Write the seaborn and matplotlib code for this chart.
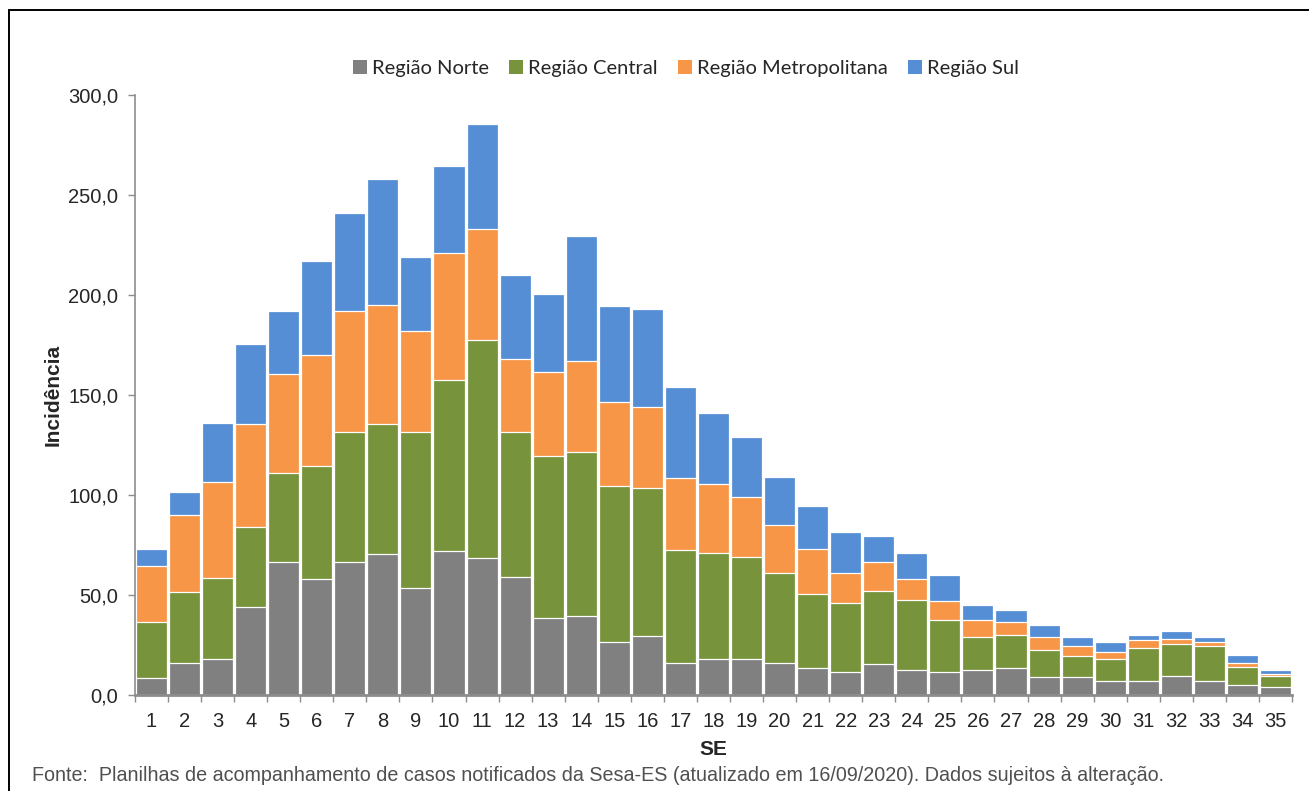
import numpy as np
import pandas as pd
import matplotlib
matplotlib.use("Agg")
import matplotlib.pyplot as plt
from matplotlib.patches import Patch, Rectangle
from matplotlib.ticker import FuncFormatter, FixedLocator
import seaborn as sns

# Epidemiological weeks
semanas = list(range(1, 36))

# Incidence by region for each week
norte = [8.7, 16.2, 17.8, 44.2, 66.3, 57.8, 66.3, 70.3, 53.3, 71.8, 68.3, 58.8,
         38.5, 39.3, 26.3, 29.3, 16.2, 18.0, 18.0, 16.2, 13.3, 11.3, 15.3, 12.3,
         11.3, 12.3, 13.3, 8.8, 8.8, 6.8, 6.8, 9.7, 6.8, 4.8, 4.0]
central = [28.0, 35.1, 40.9, 40.0, 44.7, 56.9, 65.4, 65.0, 78.4, 85.7, 109.0, 72.9,
           80.8, 82.0, 78.2, 74.4, 56.5, 53.2, 51.2, 44.6, 37.4, 34.5, 36.9, 35.4,
           26.4, 16.9, 16.7, 13.9, 10.9, 11.0, 16.7, 15.6, 17.7, 9.4, 5.7]
metropolitana = [27.8, 38.5, 47.6, 51.1, 49.5, 55.1, 60.3, 59.7, 50.3, 63.5, 55.7, 36.3,
                 42.0, 45.7, 41.8, 40.1, 35.6, 34.3, 29.8, 24.2, 22.3, 15.2, 14.1, 10.3,
                 9.3, 8.5, 6.7, 6.5, 4.8, 3.9, 3.8, 2.9, 1.8, 1.8, 1.0]
sul = [8.3, 11.9, 29.9, 40.0, 31.5, 47.4, 49.2, 63.0, 37.0, 43.7, 52.3, 41.8,
       39.0, 62.3, 48.4, 49.0, 45.5, 35.3, 29.8, 24.2, 21.3, 20.3, 13.2, 13.0,
       12.8, 7.3, 5.6, 5.6, 4.7, 4.6, 2.9, 3.8, 2.9, 3.8, 1.6]

regioes = ["Região Norte", "Região Central", "Região Metropolitana", "Região Sul"]
cores = ["#808080", "#77933C", "#F79646", "#558ED5"]

df = pd.DataFrame({
    "SE": [str(s) for s in semanas],
    "Região Norte": norte,
    "Região Central": central,
    "Região Metropolitana": metropolitana,
    "Região Sul": sul,
})
acumulado = df[regioes].cumsum(axis=1)

sns.set_style("white")
plt.rcParams["font.family"] = ["Liberation Sans", "DejaVu Sans"]

fig = plt.figure(figsize=(13.09, 7.91), dpi=100)
ax = fig.add_axes([0.1031, 0.1214, 0.8839, 0.7585])

# Stacked bars: draw the cumulative totals from the top layer down
for reg, cor in reversed(list(zip(regioes, cores))):
    sns.barplot(x=df["SE"], y=acumulado[reg], color=cor, width=0.94,
                saturation=1, edgecolor="white", linewidth=0.9, ax=ax, zorder=2)

ax.set_ylim(0, 300)
ax.set_xlim(-0.5, 34.5)
ax.set_yticks(np.arange(0, 301, 50))
ax.yaxis.set_major_formatter(FuncFormatter(lambda v, p: f"{v:.1f}".replace(".", ",")))

for s in ["top", "right"]:
    ax.spines[s].set_visible(False)
for s in ["left", "bottom"]:
    ax.spines[s].set_color("#8c8c8c")
ax.spines["left"].set_linewidth(1.2)
ax.spines["bottom"].set_linewidth(2.0)

ax.tick_params(axis="y", which="major", direction="out", length=5, width=1,
               color="#8c8c8c", labelsize=14.5, pad=7, left=True)
ax.tick_params(axis="x", which="major", length=0, labelsize=14.5, pad=12)
ax.xaxis.set_minor_locator(FixedLocator(np.arange(-0.5, 35, 1)))
ax.tick_params(axis="x", which="minor", direction="out", length=5, width=1,
               color="#8c8c8c", bottom=True)

ax.set_xlabel("SE", fontsize=15, fontweight="bold", labelpad=7)
ax.set_ylabel("Incidência", fontsize=15, fontweight="bold", labelpad=4)

handles = [Patch(facecolor=c, edgecolor="none", label=r) for r, c in zip(regioes, cores)]
fig.legend(handles=handles, loc="center", bbox_to_anchor=(0.524, 0.913), ncol=4,
           frameon=False, prop={"family": "Lato", "size": 14.5},
           handlelength=0.7, handleheight=0.7, handletextpad=0.25, columnspacing=1.0)

fig.text(0.0245, 0.007, "Fonte:  Planilhas de acompanhamento de casos notificados da Sesa-ES "
         "(atualizado em 16/09/2020). Dados sujeitos à alteração.",
         fontsize=14.2, color="#505050", ha="left", va="bottom")

# Outer chart frame (open to the right and bottom edges)
fig.patches.append(Rectangle((0.0072, -0.05), 1.1, 0.9874 + 0.05, transform=fig.transFigure,
                             fill=False, edgecolor="black", linewidth=1.4))

fig.savefig("out.png", dpi=100)
